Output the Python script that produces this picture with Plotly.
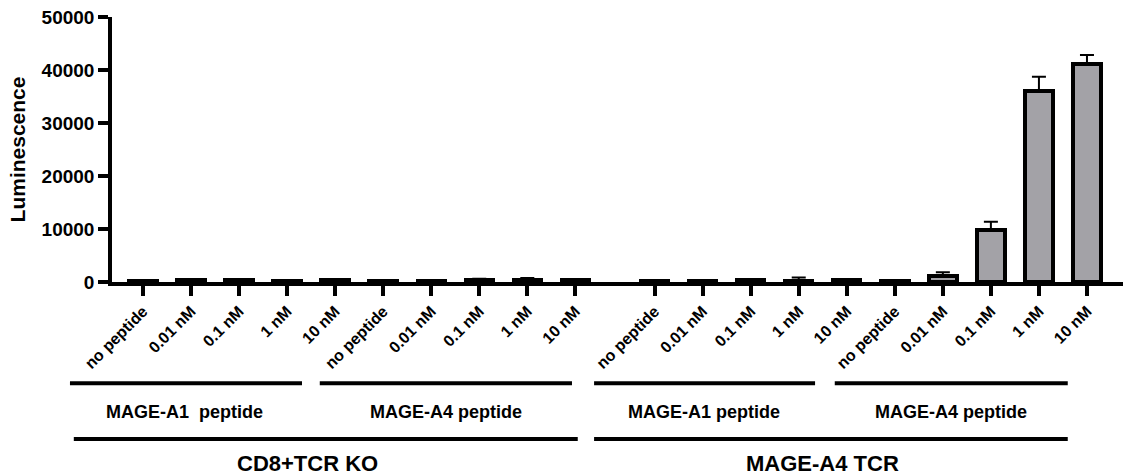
import plotly.graph_objects as go

# ---- data ----
conc_labels = ["no peptide", "0.01 nM", "0.1 nM", "1 nM", "10 nM"]
tick_labels = conc_labels * 4

ko_a1_vals = [150, 300, 350, 200, 350]
ko_a1_err = [50, 100, 100, 60, 100]
ko_a4_vals = [200, 150, 450, 450, 400]
ko_a4_err = [60, 50, 150, 300, 150]

tcr_a1_vals = [250, 100, 300, 250, 300]
tcr_a1_err = [100, 50, 100, 600, 150]
tcr_a4_vals = [150, 1200, 9850, 36000, 41200]
tcr_a4_err = [50, 650, 1500, 2750, 1650]

peptide_groups = ["MAGE-A1\u00a0 peptide", "MAGE-A4 peptide", "MAGE-A1 peptide", "MAGE-A4 peptide"]
cell_groups = ["CD8+TCR KO", "MAGE-A4 TCR"]

values = ko_a1_vals + ko_a4_vals + tcr_a1_vals + tcr_a4_vals
errors = ko_a1_err + ko_a4_err + tcr_a1_err + tcr_a4_err

# positions: 10 bars per cell group, extra gap between cell groups
EXTRA_GAP = 0.65
pos = [i + (EXTRA_GAP if i >= 10 else 0) for i in range(len(values))]

FONT = "Arial, 'Liberation Sans', sans-serif"
BAR_FILL = "#a3a2a7"

x_left = -0.645
x_right = x_left + 1011 / 48.04


def to_paper(xd):
    return (xd - x_left) / (x_right - x_left)


fig = go.Figure()
fig.add_trace(go.Bar(
    x=pos, y=values, width=0.57,
    marker=dict(color=BAR_FILL, line=dict(color="black", width=4)),
    error_y=dict(type="data", array=errors, arrayminus=[0] * len(errors),
                 symmetric=False, color="black", thickness=2, width=7),
    showlegend=False,
))

# bracket lines (x in data units -> paper, y in paper units)
line1_y = -0.382
line2_y = -0.592
text1_y = -0.492
text2_y = -0.685

level1 = [(-1.52, 3.31), (3.68, 8.93), (9.39, 13.99), (14.40, 19.25)]
level1_text_x = [0.86, 6.31, 11.68, 16.82]
level2 = [(-1.44, 9.05), (9.39, 19.25)]
level2_text_x = [3.43, 14.15]

for (x0, x1) in level1:
    fig.add_shape(type="line", xref="paper", yref="paper", x0=to_paper(x0), x1=to_paper(x1),
                  y0=line1_y, y1=line1_y, line=dict(color="black", width=4))
for (x0, x1) in level2:
    fig.add_shape(type="line", xref="paper", yref="paper", x0=to_paper(x0), x1=to_paper(x1),
                  y0=line2_y, y1=line2_y, line=dict(color="black", width=4))
for txt, xc in zip(peptide_groups, level1_text_x):
    fig.add_annotation(x=to_paper(xc), y=text1_y, xref="paper", yref="paper", text=f"<b>{txt}</b>",
                       showarrow=False, font=dict(family=FONT, size=18, color="black"),
                       xanchor="center", yanchor="middle")
for txt, xc in zip(cell_groups, level2_text_x):
    fig.add_annotation(x=to_paper(xc), y=text2_y, xref="paper", yref="paper", text=f"<b>{txt}</b>",
                       showarrow=False, font=dict(family=FONT, size=22, color="black"),
                       xanchor="center", yanchor="middle")

fig.update_layout(
    width=1123, height=475,
    margin=dict(l=112, r=0, t=17, b=193),
    plot_bgcolor="white", paper_bgcolor="white",
    font=dict(family=FONT, color="black"),
    xaxis=dict(
        range=[x_left, x_right],
        tickvals=pos, ticktext=[f"<b>{t}</b>" for t in tick_labels],
        tickangle=-45, tickfont=dict(family=FONT, size=16, color="black"),
        ticks="outside", ticklen=10, tickwidth=3.5, tickcolor="black",
        showline=True, linewidth=3.5, linecolor="black",
        showgrid=False, zeroline=False, fixedrange=True,
    ),
    yaxis=dict(
        range=[0, 50000],
        tickvals=[0, 10000, 20000, 30000, 40000, 50000],
        ticktext=["<b>0</b>", "<b>10000</b>", "<b>20000</b>", "<b>30000</b>", "<b>40000</b>", "<b>50000</b>"],
        tickfont=dict(family=FONT, size=19, color="black"),
        ticks="outside", ticklen=10, tickwidth=3.5, tickcolor="black",
        showline=True, linewidth=3.5, linecolor="black",
        showgrid=False, zeroline=False, fixedrange=True,
        title=dict(text="<b>Luminescence</b>", font=dict(family=FONT, size=21, color="black"), standoff=11),
    ),
    bargap=0,
)

fig.write_html("out.html", config={"displayModeBar": False},
               post_script="document.body.style.margin='0px';document.body.style.overflow='hidden';")
